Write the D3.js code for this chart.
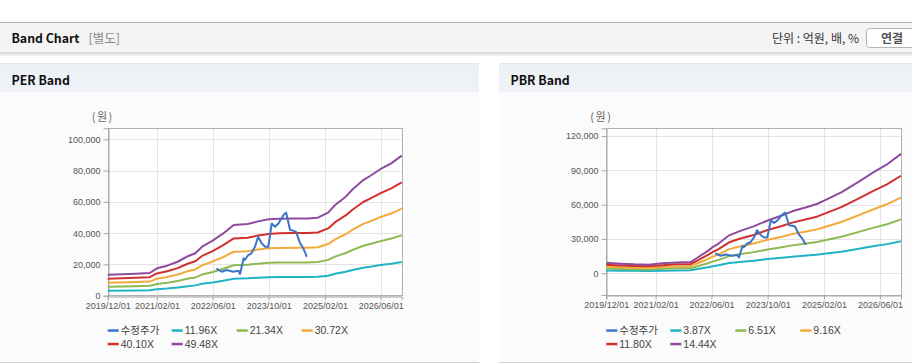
<!DOCTYPE html>
<html><head><meta charset="utf-8">
<script src="https://cdn.jsdelivr.net/npm/d3@7"></script>
<style>
html,body{margin:0;padding:0;background:#fff;}
svg{display:block;}
text{font-family:"Liberation Sans",Arial,"Noto Sans CJK KR",sans-serif;}
.kr{font-family:"Noto Sans CJK KR","Liberation Sans",sans-serif;}
</style>
</head><body>
<svg id="c" width="912" height="364"></svg>
<script>
// ---------- DATA ----------
const xTickDates = ["2019-12-01","2021-02-01","2022-06-01","2023-10-01","2025-02-01","2026-06-01"];
const xTickLabels = ["2019/12/01","2021/02/01","2022/06/01","2023/10/01","2025/02/01","2026/06/01"];

// adjusted close (수정주가), shared by both charts
const priceDates = ["2022-07-04","2022-08-19","2022-10-01","2022-11-28","2023-01-10","2023-01-25","2023-02-25","2023-03-07","2023-04-07","2023-05-04","2023-06-04","2023-07-01","2023-08-01","2023-09-01","2023-09-28","2023-10-28","2023-11-25","2023-12-25","2024-02-07","2024-03-01","2024-04-04","2024-05-01","2024-05-25","2024-07-01","2024-07-28","2024-08-28"];
const priceValues = [17300,15300,16400,15300,16000,13900,23900,22800,26000,27100,31300,37700,33500,31300,31300,46200,44100,46200,51600,53100,42000,41600,40900,33500,30300,24900];

// PER band
const perDates = ["2019-12-01","2020-08-01","2020-12-01","2021-02-01","2021-05-01","2021-08-01","2021-11-01","2022-01-01","2022-03-01","2022-06-01","2022-09-01","2022-12-01","2023-04-01","2023-07-01","2023-10-01","2024-01-01","2024-05-01","2024-09-01","2024-12-01","2025-03-01","2025-05-01","2025-08-01","2025-10-01","2026-01-01","2026-03-01","2026-06-01","2026-09-01","2026-12-01"];
const perNames = ["11.96X","21.34X","30.72X","40.10X","49.48X"];
const per1196 = [3200,3400,3500,4200,4600,5200,6100,6600,7600,8500,9600,10900,11100,11500,11800,11900,11900,11900,12100,12800,14000,15300,16400,17900,18500,19600,20400,21600];
const per2134 = [5800,6100,6300,7500,8300,9400,11000,11700,13500,15200,17200,19500,19800,20500,21000,21200,21300,21300,21500,22900,25000,27300,29300,31900,33000,34900,36500,38600];
const per3072 = [8300,8800,9000,10900,11900,13500,15800,16800,19400,21900,24700,28100,28400,29500,30300,30500,30700,30700,31000,33000,36000,39300,42200,45900,47500,50300,52500,55600];
const per4010 = [10900,11400,11800,14200,15600,17600,20600,22000,25400,28500,32300,36600,37100,38500,39500,39900,40000,40000,40400,43000,47000,51300,55100,59900,62000,65600,68600,72500];
const per4948 = [13400,14100,14500,17500,19200,21700,25400,27100,31300,35200,39800,45200,45800,47500,48800,49200,49400,49400,49900,53100,58000,63300,68000,73900,76500,81000,84600,89500];
const perYTicks = [0,20000,40000,60000,80000,100000];

// PBR band
const pbrDates = ["2019-12-01","2020-04-01","2020-08-01","2020-12-01","2021-04-01","2021-08-01","2021-12-01","2022-02-01","2022-05-01","2022-06-01","2022-08-01","2022-11-01","2023-02-01","2023-06-01","2023-10-01","2024-02-01","2024-05-01","2024-09-01","2024-12-01","2025-02-01","2025-07-01","2025-12-01","2026-04-01","2026-08-01","2026-12-01"];
const pbrNames = ["3.87X","6.51X","9.16X","11.80X","14.44X"];
const pbr387 = [2500,2300,2100,2000,2300,2500,2600,3700,5300,6000,7000,8900,9900,11000,12400,13500,14500,15500,16200,17000,18900,21500,23600,25500,28000];
const pbr651 = [4100,3800,3500,3400,3900,4300,4400,6200,8800,10000,11700,15000,16600,18500,20800,22800,24400,26000,27300,28600,31900,36200,39700,42900,47100];
const pbr916 = [5800,5300,4900,4800,5500,6000,6200,8800,12400,14100,16500,21100,23400,26000,29300,32000,34400,36600,38400,40300,44800,50900,55800,60400,66200];
const pbr1180 = [7500,6900,6400,6100,7100,7800,8000,11300,16000,18100,21200,27100,30200,33500,37800,41300,44300,47200,49500,51900,57800,65500,71900,77800,85300];
const pbr1444 = [9200,8400,7800,7500,8700,9500,9800,13800,19600,22200,26000,33200,36900,41000,46200,50500,54200,57700,60600,63500,70700,80200,88000,95200,104400];
const pbrYTicks = [0,30000,60000,90000,120000];

const priceName = "수정주가";
const seriesColors = ["#3c74c6","#1fb3c5","#8db951","#f3a93b","#d1302d","#8f4a9e"];

// ---------- DRAW ----------
const parse = d3.timeParse("%Y-%m-%d");
const svg = d3.select("#c");

// page header
svg.append("rect").attr("x",0).attr("y",22).attr("width",912).attr("height",1).attr("fill","#b4b4b4");
svg.append("rect").attr("x",0).attr("y",23).attr("width",912).attr("height",29.5).attr("fill","#f4f4f4");
svg.append("rect").attr("x",0).attr("y",52.5).attr("width",912).attr("height",1).attr("fill","#bdbdbd");
const gr = svg.append("defs").append("linearGradient").attr("id","sh").attr("x1",0).attr("x2",0).attr("y1",0).attr("y2",1);
gr.append("stop").attr("offset","0").attr("stop-color","#dcdcdc");
gr.append("stop").attr("offset","1").attr("stop-color","#ffffff");
svg.append("rect").attr("x",0).attr("y",53.5).attr("width",912).attr("height",3).attr("fill","url(#sh)");
svg.append("text").attr("class","kr").attr("x",11.5).attr("y",43).attr("font-size",12.3).attr("font-weight","bold").attr("fill","#111").text("Band Chart");
svg.append("text").attr("class","kr").attr("x",88.5).attr("y",43).attr("font-size",12.5).attr("fill","#8a8a8a").text("[별도]");
svg.append("text").attr("class","kr").attr("x",859).attr("y",43).attr("text-anchor","end").attr("font-size",12).attr("fill","#333").text("단위 : 억원, 배, %");
svg.append("rect").attr("x",866.5).attr("y",28.5).attr("width",54).attr("height",19).attr("rx",3).attr("fill","#fff").attr("stroke","#b3b3b3");
svg.append("text").attr("class","kr").attr("x",892).attr("y",42.5).attr("text-anchor","middle").attr("font-size",12).attr("font-weight","bold").attr("fill","#555").text("연결");

function panel(x0, x1, title){
  svg.append("rect").attr("x",x0).attr("y",63.5).attr("width",x1-x0).attr("height",1).attr("fill","#d2d2d2");
  svg.append("rect").attr("x",x0).attr("y",64.5).attr("width",x1-x0).attr("height",28).attr("fill","#eef2f7");
  svg.append("rect").attr("x",x0).attr("y",92.5).attr("width",x1-x0).attr("height",270).attr("fill","#fbfbfb");
  svg.append("rect").attr("x",x0).attr("y",362).attr("width",x1-x0).attr("height",1).attr("fill","#d2d2d2");
  svg.append("text").attr("class","kr").attr("x",x0+11.5).attr("y",85).attr("font-size",12.3).attr("font-weight","bold").attr("fill","#111").text(title);
}
panel(0,479,"PER Band");
panel(499,912,"PBR Band");

function chart(cfg){
  const {left,right,top,bottom,yDomain,yTicks,bandDates,bands,names} = cfg;
  const x = d3.scaleTime().domain([parse("2019-12-01"),parse("2026-12-01")]).range([left,right]);
  const y = d3.scaleLinear().domain(yDomain).range([bottom,top]);
  const g = svg.append("g");
  g.append("rect").attr("x",left).attr("y",top).attr("width",right-left).attr("height",bottom-top).attr("fill","#fff");
  // grid
  g.selectAll(".gy").data(yTicks).join("line").attr("x1",left).attr("x2",right)
    .attr("y1",d=>Math.round(y(d))+0.5).attr("y2",d=>Math.round(y(d))+0.5).attr("stroke","#e4e4e4");
  g.selectAll(".gx").data(xTickDates).join("line").attr("y1",top).attr("y2",bottom)
    .attr("x1",d=>Math.round(x(parse(d)))+0.5).attr("x2",d=>Math.round(x(parse(d)))+0.5).attr("stroke","#e4e4e4");
  // frame
  g.append("rect").attr("x",Math.round(left)+0.5).attr("y",Math.round(top)+0.5).attr("width",Math.round(right-left)).attr("height",Math.round(bottom-top)).attr("fill","none").attr("stroke","#b0b0b0");
  // axes
  const yAxis = d3.axisLeft(y).tickValues(yTicks).tickFormat(d3.format(",")).tickSize(5).tickPadding(3);
  const ya = g.append("g").attr("transform",`translate(${Math.round(left)+0.5},0)`).call(yAxis);
  const xAxis = d3.axisBottom(x).tickValues(xTickDates.map(parse)).tickFormat((d,i)=>xTickLabels[i]).tickSize(4).tickPadding(2);
  const xa = g.append("g").attr("transform",`translate(0,${Math.round(bottom)+0.5})`).call(xAxis);
  [ya,xa].forEach(a=>{
    a.select(".domain").attr("stroke","#a8a8a8");
    a.selectAll(".tick line").attr("stroke","#a8a8a8");
    a.selectAll(".tick text").attr("fill","#555").attr("font-size",9).attr("font-family","Liberation Sans, Arial, sans-serif");
  });
  // unit label
  g.append("text").attr("class","kr").attr("x",left-16).attr("y",121).attr("font-size",11).attr("fill","#666").attr("letter-spacing",1.5).text("(원)");
  // bands
  const line = d3.line().x(d=>x(d[0])).y(d=>y(d[1]));
  const bd = bandDates.map(parse);
  bands.forEach((vals,i)=>{
    g.append("path").attr("d",line(vals.map((v,j)=>[bd[j],v]))).attr("fill","none")
      .attr("stroke",seriesColors[i+1]).attr("stroke-width",2).attr("stroke-linejoin","round");
  });
  const pd = priceDates.map(parse);
  g.append("path").attr("d",line(priceValues.map((v,j)=>[pd[j],v]))).attr("fill","none")
    .attr("stroke",seriesColors[0]).attr("stroke-width",2).attr("stroke-linejoin","round");
  // legend
  const labels = [priceName].concat(names);
  const cols = [0,64,129,194];
  labels.forEach((lab,i)=>{
    const r = Math.floor(i/4), c = i%4;
    const lx = left + cols[c], ly = 330.5 + r*13.5;
    g.append("rect").attr("x",lx).attr("y",ly-1.2).attr("width",11).attr("height",2.5).attr("fill",seriesColors[i]);
    g.append("text").attr("x",lx+13).attr("y",ly+3.8).attr("font-size",10.5).attr("fill","#444").text(lab);
  });
}

chart({left:107.7,right:401.7,top:128.3,bottom:295.7,yDomain:[0,107000],yTicks:perYTicks,
  bandDates:perDates,bands:[per1196,per2134,per3072,per4010,per4948],names:perNames});
chart({left:606.3,right:901,top:128.3,bottom:295,yDomain:[-19000,126800],yTicks:pbrYTicks,
  bandDates:pbrDates,bands:[pbr387,pbr651,pbr916,pbr1180,pbr1444],names:pbrNames});
</script>
</body></html>
